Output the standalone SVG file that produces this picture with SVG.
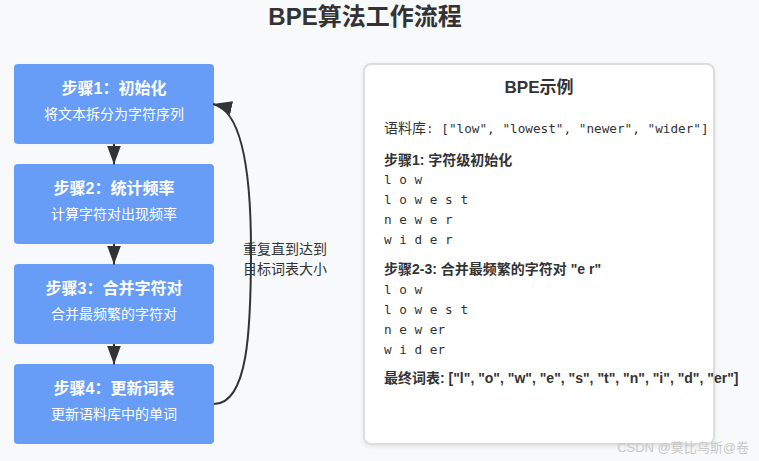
<svg xmlns="http://www.w3.org/2000/svg" width="759" height="461" viewBox="0 0 759 461">
<defs>
<style>
.sans{font-family:"Liberation Sans","Noto Sans CJK SC",sans-serif;}
.mono{font-family:"DejaVu Sans Mono","Noto Sans CJK SC",monospace;font-size:12.7px;fill:#333;}
.box{fill:#679df6;}
.bt{font-family:"Liberation Sans","Noto Sans CJK SC",sans-serif;font-size:16px;font-weight:bold;fill:#fff;text-anchor:middle;}
.bs{font-family:"Liberation Sans","Noto Sans CJK SC",sans-serif;font-size:14px;fill:#fff;text-anchor:middle;}
.h{font-family:"Liberation Sans","Noto Sans CJK SC",sans-serif;font-size:14px;font-weight:bold;fill:#333;}
.conn{stroke:#333;stroke-width:2;fill:none;}
</style>
<marker id="arr" viewBox="0 0 19 14" refX="19" refY="7" markerWidth="19" markerHeight="14" markerUnits="userSpaceOnUse" orient="auto">
<path d="M0,0 L19,7 L0,14 z" fill="#333"/>
</marker>
<filter id="sh" x="-5%" y="-5%" width="110%" height="110%">
<feDropShadow dx="0" dy="2" stdDeviation="2" flood-color="#000" flood-opacity="0.08"/>
</filter>
</defs>
<rect x="0" y="0" width="759" height="461" fill="#f8f9fb"/>
<text class="sans" x="365" y="25" font-size="24" font-weight="bold" fill="#333" text-anchor="middle">BPE算法工作流程</text>

<g id="step1">
<rect class="box" x="14" y="64" width="200" height="80" rx="4"/>
<text class="bt" x="114" y="94">步骤1：初始化</text>
<text class="bs" x="114" y="119">将文本拆分为字符序列</text>
</g>
<g id="step2">
<rect class="box" x="14" y="164" width="200" height="80" rx="4"/>
<text class="bt" x="114" y="194">步骤2：统计频率</text>
<text class="bs" x="114" y="219">计算字符对出现频率</text>
</g>
<g id="step3">
<rect class="box" x="14" y="264" width="200" height="80" rx="4"/>
<text class="bt" x="114" y="294">步骤3：合并字符对</text>
<text class="bs" x="114" y="319">合并最频繁的字符对</text>
</g>
<g id="step4">
<rect class="box" x="14" y="364" width="200" height="80" rx="4"/>
<text class="bt" x="114" y="394">步骤4：更新词表</text>
<text class="bs" x="114" y="419">更新语料库中的单词</text>
</g>

<g id="connectors">
<path class="conn" d="M114,144 L114,164.5" marker-end="url(#arr)"/>
<path class="conn" d="M114,244 L114,264.5" marker-end="url(#arr)"/>
<path class="conn" d="M114,344 L114,364.5" marker-end="url(#arr)"/>
<path class="conn" d="M214,404 C248,404 251,330 251,250 C251,170 241,110 213,104" marker-end="url(#arr)"/>
<text class="sans" x="243" y="254" font-size="14" fill="#333">重复直到达到</text>
<text class="sans" x="243" y="274" font-size="14" fill="#333">目标词表大小</text>
</g>

<g id="example">
<rect x="364" y="64" width="350" height="380" rx="7" fill="#fff" stroke="#dcdcdc" stroke-width="2" filter="url(#sh)"/>
<text class="sans" x="539" y="93" font-size="17" font-weight="bold" fill="#333" text-anchor="middle">BPE示例</text>
<text x="384" y="133"><tspan class="sans" font-size="14" fill="#333">语料库</tspan><tspan class="mono" xml:space="preserve">: ["low", "lowest", "newer", "wider"]</tspan></text>
<text class="h" x="384" y="165">步骤1: 字符级初始化</text>
<text class="mono" x="384" y="184">l o w</text>
<text class="mono" x="384" y="204">l o w e s t</text>
<text class="mono" x="384" y="224">n e w e r</text>
<text class="mono" x="384" y="244">w i d e r</text>
<text class="h" x="384" y="274">步骤2-3: 合并最频繁的字符对 "e r"</text>
<text class="mono" x="384" y="294">l o w</text>
<text class="mono" x="384" y="314">l o w e s t</text>
<text class="mono" x="384" y="334">n e w er</text>
<text class="mono" x="384" y="354">w i d er</text>
<text class="h" x="384" y="383">最终词表: ["l", "o", "w", "e", "s", "t", "n", "i", "d", "er"]</text>
</g>
<text class="sans" x="749" y="452" font-size="13" fill="#c8c8c8" text-anchor="end">CSDN @莫比乌斯@卷</text>
</svg>
